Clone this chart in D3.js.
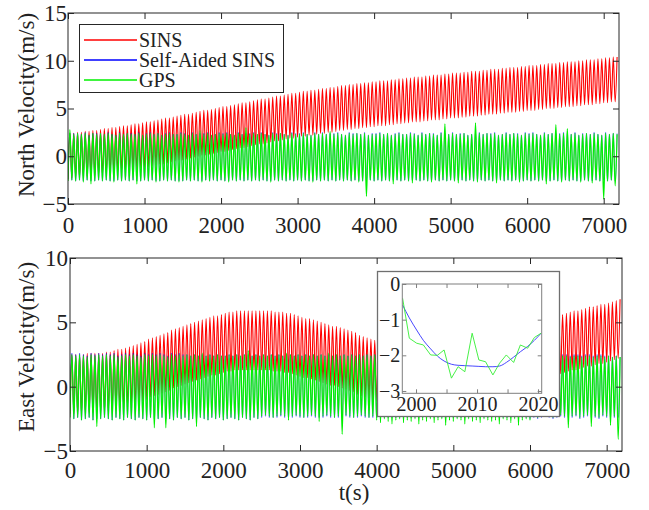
<!DOCTYPE html>
<html><head><meta charset="utf-8">
<script src="https://cdn.jsdelivr.net/npm/d3@7"></script>
<style>
html,body{margin:0;padding:0;background:#fff;}
svg{display:block;}
text{font-family:"Liberation Serif","Times New Roman",serif;fill:#222;}
</style></head><body>
<svg id="chart" width="649" height="510"></svg>
<script>
// ---- data ----
const seriesNames = ["SINS", "Self-Aided SINS", "GPS"];
const xTicks = [0,1000,2000,3000,4000,5000,6000,7000];
const northTicks = [-5,0,5,10,15];
const eastTicks = [-5,0,5,10];
const PERIOD = 50; // s, one oscillation cycle; values below are per-cycle peak / trough

// North velocity
const nRedPk = [2.4,2.4,2.5,2.5,2.6,2.6,2.7,2.7,2.8,2.9, 2.9,3.0,3.0,3.1,3.2,3.2,3.3,3.4,3.4,3.5,
 3.6,3.6,3.7,3.8,3.9,4.0,4.0,4.1,4.2,4.3, 4.4,4.4,4.5,4.6,4.7,4.8,4.8,4.9,5.0,5.1,
 5.2,5.2,5.3,5.4,5.5,5.6,5.6,5.7,5.8,5.9, 6.0,6.0,6.1,6.2,6.3,6.3,6.4,6.5,6.6,6.6,
 6.7,6.8,6.8,6.9,6.9,7.0,7.1,7.1,7.2,7.2, 7.3,7.4,7.4,7.5,7.5,7.6,7.6,7.7,7.7,7.8,
 7.8,7.9,7.9,7.9,8.0,8.0,8.1,8.1,8.2,8.2, 8.3,8.3,8.3,8.4,8.4,8.5,8.5,8.5,8.6,8.6,
 8.7,8.7,8.7,8.8,8.8,8.9,8.9,8.9,9.0,9.0, 9.1,9.1,9.1,9.2,9.2,9.3,9.3,9.3,9.4,9.4,
 9.5,9.5,9.5,9.6,9.6,9.7,9.7,9.7,9.8,9.8, 9.9,9.9,9.9,10.0,10.0,10.1,10.1,10.1,10.2,10.2,
 10.3,10.3,10.4,10.4];
const nRedTr = [-2.4,-2.3,-2.2,-2.2,-2.1,-2.1,-2.0,-2.0,-1.9,-1.9, -1.8,-1.7,-1.7,-1.6,-1.5,-1.5,-1.4,-1.3,-1.3,-1.2,
 -1.2,-1.1,-1.0,-0.9,-0.8,-0.8,-0.7,-0.6,-0.5,-0.4, -0.4,-0.3,-0.2,-0.1,0.0,0.1,0.1,0.2,0.3,0.4,
 0.5,0.5,0.6,0.7,0.8,0.9,0.9,1.0,1.1,1.2, 1.3,1.3,1.4,1.5,1.6,1.6,1.7,1.8,1.9,1.9,
 2.0,2.1,2.1,2.2,2.2,2.3,2.4,2.4,2.5,2.5, 2.6,2.7,2.7,2.8,2.8,2.9,2.9,3.0,3.0,3.1,
 3.1,3.2,3.2,3.2,3.3,3.3,3.4,3.4,3.5,3.5, 3.6,3.6,3.6,3.7,3.7,3.8,3.8,3.8,3.9,3.9,
 4.0,4.0,4.0,4.1,4.1,4.2,4.2,4.2,4.3,4.3, 4.4,4.4,4.4,4.5,4.5,4.6,4.6,4.6,4.7,4.7,
 4.8,4.8,4.8,4.9,4.9,5.0,5.0,5.0,5.1,5.1, 5.2,5.2,5.2,5.3,5.3,5.4,5.4,5.4,5.5,5.5,
 5.6,5.6,5.7,5.7];
const nBluePk = [2.4,2.4,2.4,2.3,2.5,2.2,2.4,2.4,2.4,2.3, 2.5,2.3,2.2,2.5,2.3,2.4,2.4,2.3,2.5,2.2,
 2.4,2.5,2.3,2.4,2.2,2.4,2.5,2.3,2.3,2.5, 2.4,2.2,2.5,2.3,2.4,2.4,2.5,2.2,2.3,2.5,
 2.4,2.5,2.3,2.2,2.5,2.3,2.4,2.4,2.5,2.3, 2.5,2.3,2.2,2.5,2.4,2.4,2.3,2.2,2.5,2.4,
 2.4,2.5,2.3,2.2,2.5,2.3,2.5,2.3,2.4,2.4, 2.5,2.3,2.2,2.5,2.4,2.4,2.3,2.5,2.2,2.4,
 2.4,2.5,2.3,2.4,2.2,2.4,2.5,2.3,2.3,2.5, 2.4,2.2,2.5,2.3,2.4,2.4,2.2,2.5,2.4,2.3,
 2.5,2.3,2.4,2.4,2.2,2.3,2.4,2.5,2.3,2.4, 2.4,2.5,2.2,2.3,2.5,2.3,2.4,2.4,2.2,2.5,
 2.4,2.5,2.3,2.2,2.5,2.3,2.4,2.4,2.4,2.5, 2.4,2.3,2.5,2.2,2.4,2.4,2.3,2.5,2.3,2.2,
 2.5,2.3,2.4,2.4];
const nBlueTr = [-2.4,-2.5,-2.6,-2.5,-2.6,-2.5,-2.6,-2.6,-2.5,-2.6, -2.5,-2.6,-2.6,-2.5,-2.6,-2.5,-2.6,-2.5,-2.6,-2.6,
 -2.5,-2.6,-2.5,-2.6,-2.6,-2.5,-2.6,-2.5,-2.6,-2.6, -2.6,-2.5,-2.6,-2.5,-2.6,-2.6,-2.5,-2.6,-2.5,-2.6,
 -2.5,-2.6,-2.6,-2.5,-2.6,-2.5,-2.6,-2.5,-2.6,-2.5, -2.6,-2.5,-2.6,-2.6,-2.5,-2.6,-2.5,-2.6,-2.5,-2.6,
 -2.5,-2.6,-2.5,-2.6,-2.6,-2.5,-2.6,-2.5,-2.6,-2.5, -2.6,-2.5,-2.6,-2.5,-2.6,-2.5,-2.6,-2.6,-2.5,-2.5,
 -2.6,-2.5,-2.6,-2.5,-2.6,-2.5,-2.5,-2.6,-2.5,-2.6, -2.5,-2.5,-2.6,-2.5,-2.6,-2.6,-2.5,-2.6,-2.5,-2.6,
 -2.5,-2.6,-2.5,-2.5,-2.6,-2.5,-2.6,-2.6,-2.5,-2.6, -2.5,-2.6,-2.5,-2.5,-2.6,-2.5,-2.6,-2.5,-2.6,-2.6,
 -2.5,-2.6,-2.5,-2.6,-2.5,-2.6,-2.6,-2.5,-2.6,-2.6, -2.5,-2.6,-2.5,-2.6,-2.6,-2.5,-2.6,-2.6,-2.5,-2.6,
 -2.5,-2.6,-2.5,-2.6];
const nGreenPk = [2.8,2.3,2.4,2.3,2.4,2.2,2.4,2.3,2.4,2.3, 2.4,2.3,2.2,2.4,2.3,2.4,2.3,2.3,2.4,2.2,
 2.3,2.4,2.3,2.4,2.2,2.3,2.4,2.3,2.3,2.4, 2.3,2.2,2.4,2.3,2.7,2.3,2.4,2.2,2.3,2.4,
 2.3,2.4,2.3,2.2,2.4,2.3,3.0,2.3,2.4,2.3, 2.4,2.3,2.2,2.4,2.3,2.4,2.3,2.2,2.4,2.3,
 2.3,2.4,2.3,2.2,2.4,2.3,2.4,2.3,2.6,2.3, 2.4,2.3,2.2,2.4,2.3,2.4,2.3,2.4,2.2,2.3,
 2.3,2.4,2.3,2.4,2.2,2.3,2.4,2.3,2.3,2.4, 2.3,2.2,2.4,2.3,2.4,2.3,2.2,2.4,3.4,2.3,
 2.4,2.3,2.3,2.4,2.2,2.3,3.5,2.4,2.3,2.4, 2.3,2.4,2.2,2.3,2.4,2.3,2.4,2.3,2.2,2.4,
 2.3,2.4,2.3,2.2,2.4,2.3,2.4,3.3,2.3,2.4, 2.9,2.3,2.4,2.2,2.3,2.4,2.3,2.4,2.3,2.2,
 2.4,2.3,2.4,2.3];
const nGreenTr = [-2.6,-2.5,-2.6,-2.5,-2.7,-2.5,-2.9,-2.6,-2.5,-2.6, -2.5,-2.6,-2.7,-2.5,-2.6,-2.5,-2.6,-2.5,-2.9,-2.6,
 -2.5,-2.6,-2.5,-2.7,-2.6,-2.5,-2.6,-2.5,-2.6,-2.7, -2.6,-2.5,-2.6,-2.5,-2.6,-2.7,-2.5,-2.6,-2.5,-2.6,
 -2.5,-2.6,-2.7,-2.5,-2.6,-2.5,-2.6,-2.5,-2.6,-2.5, -2.6,-2.5,-2.6,-2.7,-2.5,-2.6,-2.5,-2.6,-2.5,-2.6,
 -2.5,-2.6,-2.5,-2.6,-2.7,-2.5,-2.6,-2.5,-2.6,-2.5, -2.6,-2.5,-2.6,-2.5,-2.6,-2.5,-2.7,-2.6,-4.2,-2.5,
 -2.6,-2.5,-2.6,-2.5,-2.6,-2.9,-2.5,-2.6,-2.5,-2.6, -2.8,-2.5,-2.6,-2.5,-2.6,-2.7,-2.5,-2.6,-2.5,-2.6,
 -2.5,-2.6,-2.8,-2.5,-2.6,-2.5,-2.6,-2.7,-2.5,-2.6, -2.5,-2.6,-2.8,-2.5,-2.6,-2.5,-2.6,-2.5,-2.7,-2.6,
 -2.5,-2.6,-2.5,-2.6,-2.5,-2.9,-2.6,-2.5,-2.6,-2.7, -2.5,-2.6,-2.5,-2.6,-2.7,-2.5,-2.6,-2.8,-2.5,-2.6,
 -4.5,-2.6,-2.5,-3.1];

// East velocity
const eRedPk = [2.5,2.5,2.5,2.5,2.6,2.6,2.6,2.6,2.6,2.7, 2.7,2.8,2.9,2.9,3.0,3.1,3.2,3.3,3.4,3.5,
 3.7,3.8,3.9,4.0,4.1,4.2,4.4,4.5,4.6,4.7, 4.8,4.9,5.0,5.1,5.2,5.3,5.4,5.5,5.5,5.6,
 5.7,5.8,5.8,5.9,5.9,5.9,5.9,5.9,5.9,5.9, 5.9,5.9,5.9,5.8,5.8,5.8,5.7,5.7,5.6,5.5,
 5.4,5.3,5.3,5.2,5.1,5.0,4.9,4.8,4.7,4.7, 4.6,4.5,4.4,4.3,4.2,4.0,3.9,3.8,3.7,3.6,
 3.5,3.4,3.3,3.3,3.2,3.1,3.0,2.9,2.9,2.8, 2.8,2.7,2.7,2.6,2.6,2.6,2.6,2.5,2.5,2.5,
 2.5,2.5,2.6,2.6,2.6,2.7,2.7,2.8,2.9,2.9, 3.0,3.1,3.3,3.4,3.5,3.7,3.8,4.0,4.1,4.3,
 4.5,4.6,4.8,4.9,5.1,5.2,5.3,5.5,5.6,5.7, 5.8,5.9,5.9,6.0,6.1,6.2,6.2,6.3,6.4,6.4,
 6.5,6.6,6.7,6.8];
const eRedTr = [-2.1,-2.1,-2.1,-2.1,-2.0,-2.0,-2.0,-2.0,-2.0,-1.9, -1.9,-1.8,-1.7,-1.7,-1.6,-1.5,-1.4,-1.3,-1.2,-1.1,
 -1.0,-0.8,-0.7,-0.6,-0.5,-0.4,-0.3,-0.1,0.0,0.1, 0.2,0.3,0.4,0.5,0.6,0.7,0.8,0.9,0.9,1.0,
 1.1,1.2,1.2,1.3,1.3,1.3,1.3,1.3,1.3,1.3, 1.3,1.3,1.3,1.2,1.2,1.2,1.1,1.1,1.0,0.9,
 0.8,0.7,0.7,0.6,0.5,0.4,0.3,0.2,0.1,0.1, 0.0,-0.1,-0.2,-0.3,-0.4,-0.6,-0.7,-0.8,-0.9,-1.0,
 -1.1,-1.2,-1.3,-1.3,-1.4,-1.5,-1.6,-1.7,-1.7,-1.8, -1.8,-1.9,-1.9,-2.0,-2.0,-2.0,-2.0,-2.1,-2.1,-2.1,
 -2.1,-2.1,-2.0,-2.0,-2.0,-1.9,-1.9,-1.8,-1.7,-1.7, -1.6,-1.5,-1.3,-1.2,-1.1,-0.9,-0.8,-0.6,-0.5,-0.3,
 -0.1,0.0,0.2,0.3,0.5,0.6,0.7,0.9,1.0,1.1, 1.2,1.3,1.3,1.4,1.5,1.6,1.6,1.7,1.8,1.8,
 1.9,2.0,2.1,2.2];
const eBluePk = [2.6,2.5,2.6,2.5,2.4,2.6,2.5,2.6,2.5,2.6, 2.5,2.6,2.4,2.5,2.6,2.5,2.6,2.5,2.4,2.6,
 2.5,2.6,2.5,2.6,2.5,2.4,2.6,2.5,2.6,2.5, 2.5,2.4,2.5,2.4,2.5,2.4,2.5,2.4,2.5,2.4,
 2.4,2.5,2.4,2.5,2.4,2.5,2.5,2.4,2.5,2.4, 2.5,2.4,2.5,2.4,2.5,2.4,2.5,2.5,2.4,2.5,
 2.4,2.5,2.4,2.5,2.4,2.5,2.4,2.5,2.4,2.5, 2.4,2.5,2.4,2.5,2.4,2.5,2.4,2.5,2.4,2.5,
 2.4,2.5,2.4,2.3,2.5,2.4,2.5,2.4,2.5,2.4, 2.5,2.4,2.5,2.4,2.5,2.4,2.5,2.4,2.5,2.4,
 2.4,2.5,2.4,2.5,2.4,2.5,2.4,2.5,2.4,2.5, 2.5,2.4,2.5,2.4,2.5,2.4,2.5,2.4,2.5,2.4,
 2.5,2.6,2.5,2.6,2.5,2.6,2.5,2.6,2.5,2.5, 2.4,2.5,2.5,2.4,2.5,2.5,2.4,2.5,2.5,2.4,
 2.4,2.3,2.4,2.3];
const eBlueTr = [0.0,-2.5,-2.4,-2.6,-2.5,-2.4,-2.6,-2.5,-2.5,-2.4, -2.5,-2.6,-2.4,-2.5,-2.6,-2.4,-2.5,-2.6,-2.4,-2.5,
 -2.6,-2.4,-2.5,-2.5,-2.4,-2.5,-2.5,-2.6,-2.4,-2.5, -2.4,-2.6,-2.5,-2.5,-2.4,-2.5,-2.6,-2.4,-2.5,-2.4,
 -2.6,-2.5,-2.4,-2.5,-2.6,-2.4,-2.5,-2.6,-2.4,-2.5, -2.4,-2.3,-2.4,-2.4,-2.4,-2.3,-2.4,-2.4,-2.4,-2.3,
 -2.4,-2.4,-2.4,-2.3,-2.4,-2.4,-2.4,-2.3,-2.4,-2.4, -2.4,-2.4,-2.3,-2.4,-2.4,-2.4,-2.3,-2.4,-2.4,-2.4,
 -2.4,-2.4,-2.4,-2.4,-2.4,-2.4,-2.4,-2.4,-2.4,-2.4, -2.4,-2.4,-2.4,-2.4,-2.4,-2.4,-2.4,-2.4,-2.4,-2.4,
 -2.4,-2.4,-2.4,-2.4,-2.4,-2.4,-2.4,-2.4,-2.4,-2.4, -2.4,-2.4,-2.4,-2.4,-2.4,-2.4,-2.4,-2.4,-2.4,-2.4,
 -2.5,-2.4,-2.5,-2.4,-2.3,-2.4,-2.5,-2.4,-2.3,-2.4, -2.4,-2.4,-2.3,-2.5,-2.4,-2.3,-2.4,-2.4,-2.5,-2.3,
 -2.4,-2.4,-2.4,-2.4];
const eGreenPk = [2.5,2.4,2.5,2.4,2.3,2.5,2.4,2.5,2.4,2.5, 2.4,2.5,2.3,2.4,2.5,2.4,2.5,2.4,2.3,2.5,
 2.4,2.5,2.4,2.5,2.4,2.3,2.5,2.4,2.5,2.4, 2.5,2.4,2.5,2.4,2.6,2.4,2.5,2.4,2.5,2.4,
 2.4,2.5,2.4,2.5,2.4,2.5,2.8,2.4,2.5,2.4, 2.5,2.4,2.5,2.4,2.5,2.4,2.6,2.5,2.4,2.5,
 2.4,2.5,2.4,2.5,2.4,2.5,2.4,2.6,2.4,2.5, 2.4,2.5,2.4,2.5,2.4,2.5,2.4,2.5,2.4,2.5,
 2.4,2.5,2.4,2.3,2.5,2.4,2.5,2.4,2.5,2.4, 2.5,2.4,2.5,2.4,2.5,2.4,2.5,2.4,2.5,2.4,
 2.4,2.5,2.4,2.5,2.4,2.5,2.4,2.5,2.4,2.5, 2.5,2.4,2.5,2.4,2.5,2.4,2.5,2.4,2.5,2.4,
 2.4,2.5,2.4,2.5,2.4,2.5,2.4,2.5,2.4,2.4, 2.3,2.4,2.4,2.3,2.4,2.4,2.3,2.4,2.4,2.3,
 2.4,2.3,2.4,2.3];
const eGreenTr = [-2.4,-2.5,-2.4,-2.6,-2.5,-2.4,-2.6,-3.1,-2.5,-2.4, -2.5,-2.6,-2.4,-2.5,-2.6,-2.4,-2.5,-2.6,-2.4,-2.5,
 -2.6,-2.4,-3.2,-2.5,-2.4,-3.2,-2.5,-2.6,-2.4,-2.5, -2.4,-2.6,-2.5,-3.1,-2.4,-2.5,-2.6,-2.4,-2.5,-2.4,
 -2.6,-2.5,-2.4,-2.5,-2.6,-2.4,-2.5,-2.6,-2.4,-2.5, -2.3,-2.2,-2.3,-2.4,-2.3,-2.2,-2.3,-2.6,-2.3,-2.2,
 -2.3,-2.4,-2.3,-2.2,-2.3,-2.7,-2.3,-2.2,-2.3,-2.4, -2.3,-3.7,-2.2,-2.3,-2.4,-2.3,-2.2,-2.3,-2.4,-2.3,
 -2.6,-2.8,-2.5,-2.7,-2.9,-2.6,-2.5,-2.8,-2.6,-2.7, -2.5,-2.9,-2.6,-2.7,-2.5,-2.8,-2.6,-2.5,-3.0,-2.6,
 -2.7,-2.5,-2.6,-2.9,-2.5,-2.7,-2.6,-2.8,-2.5,-2.6, -2.7,-2.6,-2.9,-2.5,-2.6,-2.8,-2.5,-3.0,-2.6,-2.5,
 -2.6,-2.3,-2.4,-2.3,-2.2,-2.3,-2.4,-2.3,-2.2,-2.3, -3.2,-2.3,-2.2,-2.4,-2.3,-2.2,-3.1,-2.3,-2.4,-2.2,
 -2.3,-3.0,-2.3,-4.1];

// Inset (East velocity, zoom around t = 2000 s)
const insetT = [1997.8,1998.9,2000.1,2001.2,2002.4,2003.5,2004.6,2005.8,2006.9,2008.0,2009.2,2010.3,2011.4,2012.6,2013.7,2014.8,2016.0,2017.1,2018.3,2019.4,2020.5];
const insetGPS = [-0.40,-1.52,-1.66,-1.71,-1.99,-2.00,-1.85,-2.64,-2.32,-2.46,-1.38,-2.13,-2.18,-2.55,-2.22,-1.99,-2.20,-1.71,-1.80,-1.50,-1.38];
const insetSelf = [-0.59,-0.95,-1.29,-1.58,-1.82,-2.02,-2.16,-2.25,-2.28,-2.29,-2.30,-2.31,-2.32,-2.32,-2.30,-2.20,-2.05,-1.90,-1.75,-1.58,-1.38];
const insetYTicks = [0,-1,-2,-3];
const insetXLabels = [2000,2010,2020];
const insetXTicks = [2000,2005,2010,2015,2020];

// ---- drawing ----
const svg = d3.select("#chart");
const colors = ["#ff0000","#0000ff","#00f000"];
const widths = [1.1, 0.45, 1.25];
const frameColor = "#262626";

function cyclePoints(pk, tr){
  const pts=[];
  for(let i=0;i<pk.length;i++){
    pts.push({t:i*PERIOD, v:tr[i]});
    pts.push({t:i*PERIOD+PERIOD/2, v:pk[i]});
  }
  return pts;
}

function panel(cfg){
  const {left,right,top,bottom,yDomain,yTicks,series,id,xLabPad,yLabPad} = cfg;
  const x = d3.scaleLinear().domain([0,7200]).range([left,right]);
  const y = d3.scaleLinear().domain(yDomain).range([bottom,top]);
  const g = svg.append("g");
  g.append("clipPath").attr("id",id).append("rect")
    .attr("x",left).attr("y",top).attr("width",right-left).attr("height",bottom-top);
  const line = d3.line().x(d=>x(d.t)).y(d=>y(d.v)).curve(d3.curveMonotoneX);
  const lg = g.append("g").attr("clip-path",`url(#${id})`);
  series.forEach((s,k)=>{
    lg.append("path").datum(cyclePoints(s[0],s[1]))
      .attr("d",line).attr("fill","none").attr("stroke",colors[k]).attr("stroke-width",widths[k]);
  });
  const ax = (gen, tr) => {
    const a = g.append("g").attr("transform",tr).call(gen);
    a.select(".domain").remove();
    a.selectAll(".tick line").attr("stroke",frameColor);
    a.selectAll("text").style("font-family",'"Liberation Serif",serif').style("font-size","23px").attr("fill","#222");
    return a;
  };
  ax(d3.axisBottom(x).tickValues(xTicks).tickSize(-6).tickPadding(xLabPad).tickFormat(d3.format("d")), `translate(0,${bottom})`);
  ax(d3.axisTop(x).tickValues(xTicks).tickSize(-6).tickFormat(""), `translate(0,${top})`);
  ax(d3.axisLeft(y).tickValues(yTicks).tickSize(-6).tickPadding(yLabPad).tickFormat(d3.format("d")), `translate(${left},0)`);
  ax(d3.axisRight(y).tickValues(yTicks).tickSize(-6).tickFormat(""), `translate(${right},0)`);
  g.append("rect").attr("x",left).attr("y",top).attr("width",right-left).attr("height",bottom-top)
    .attr("fill","none").attr("stroke",frameColor).attr("stroke-width",1);
  return {x,y,g};
}

panel({left:68,right:619,top:13,bottom:204,yDomain:[-5,15],yTicks:northTicks,id:"c1",xLabPad:13,yLabPad:1,
  series:[[nRedPk,nRedTr],[nBluePk,nBlueTr],[nGreenPk,nGreenTr]]});
panel({left:70,right:622,top:258,bottom:451,yDomain:[-5,10],yTicks:eastTicks,id:"c2",xLabPad:11,yLabPad:2,
  series:[[eRedPk,eRedTr],[eBluePk,eBlueTr],[eGreenPk,eGreenTr]]});

svg.append("text").attr("transform","translate(34,105) rotate(-90)").attr("text-anchor","middle")
  .style("font-size","23px").text("North Velocity(m/s)");
svg.append("text").attr("transform","translate(34,347) rotate(-90)").attr("text-anchor","middle")
  .style("font-size","23px").text("East Velocity(m/s)");
svg.append("text").attr("x",354).attr("y",500).attr("text-anchor","middle").style("font-size","23px").text("t(s)");

// legend
const leg = svg.append("g");
leg.append("rect").attr("x",79.5).attr("y",24.5).attr("width",204).attr("height",68)
  .attr("fill","#fff").attr("stroke",frameColor).attr("stroke-width",1);
const legY = [40,60,80];
seriesNames.forEach((n,i)=>{
  leg.append("line").attr("x1",84).attr("x2",137).attr("y1",legY[i]).attr("y2",legY[i])
    .attr("stroke",colors[i]).attr("stroke-width",1.6);
  leg.append("text").attr("x",139).attr("y",legY[i]).attr("dy","0.33em").style("font-size","20px").text(n);
});

// inset
const inset = svg.append("g");
inset.append("rect").attr("x",377.5).attr("y",271.5).attr("width",182).attr("height",145)
  .attr("fill","#fff").attr("stroke","#6f6f6f").attr("stroke-width",1.3);
const ix = d3.scaleLinear().domain([1997.75,2020.6]).range([402.3,541.7]);
const iy = d3.scaleLinear().domain([-3.065,0]).range([393.3,284]);
inset.append("clipPath").attr("id","c3").append("rect").attr("x",402.3).attr("y",284).attr("width",139.4).attr("height",109.3);
const ilg = inset.append("g").attr("clip-path","url(#c3)");
ilg.append("path").datum(insetSelf)
  .attr("d",d3.line().x((d,i)=>ix(insetT[i])).y(d=>iy(d)).curve(d3.curveMonotoneX))
  .attr("fill","none").attr("stroke","#3333ff").attr("stroke-width",0.9);
ilg.append("path").datum(insetGPS)
  .attr("d",d3.line().x((d,i)=>ix(insetT[i])).y(d=>iy(d)))
  .attr("fill","none").attr("stroke","#33ee33").attr("stroke-width",0.9);
const iax = (gen,tr)=>{
  const a = inset.append("g").attr("transform",tr).call(gen);
  a.select(".domain").remove();
  a.selectAll(".tick line").attr("stroke","#7f7f7f");
  a.selectAll("text").style("font-family",'"Liberation Serif",serif').style("font-size","20px").attr("fill","#222");
};
iax(d3.axisBottom(ix).tickValues(insetXTicks).tickSize(-4).tickPadding(4).tickFormat(d=>insetXLabels.includes(d)?d:""), "translate(0,393.3)");
iax(d3.axisTop(ix).tickValues(insetXTicks).tickSize(-4).tickFormat(""), "translate(0,284)");
iax(d3.axisLeft(iy).tickValues(insetYTicks).tickSize(-4).tickPadding(2).tickFormat(d3.format("d")), "translate(402.3,0)");
iax(d3.axisRight(iy).tickValues(insetYTicks).tickSize(-4).tickFormat(""), "translate(541.7,0)");
inset.append("rect").attr("x",402.3).attr("y",284).attr("width",139.4).attr("height",109.3)
  .attr("fill","none").attr("stroke","#7f7f7f").attr("stroke-width",1);
</script>
</body></html>
